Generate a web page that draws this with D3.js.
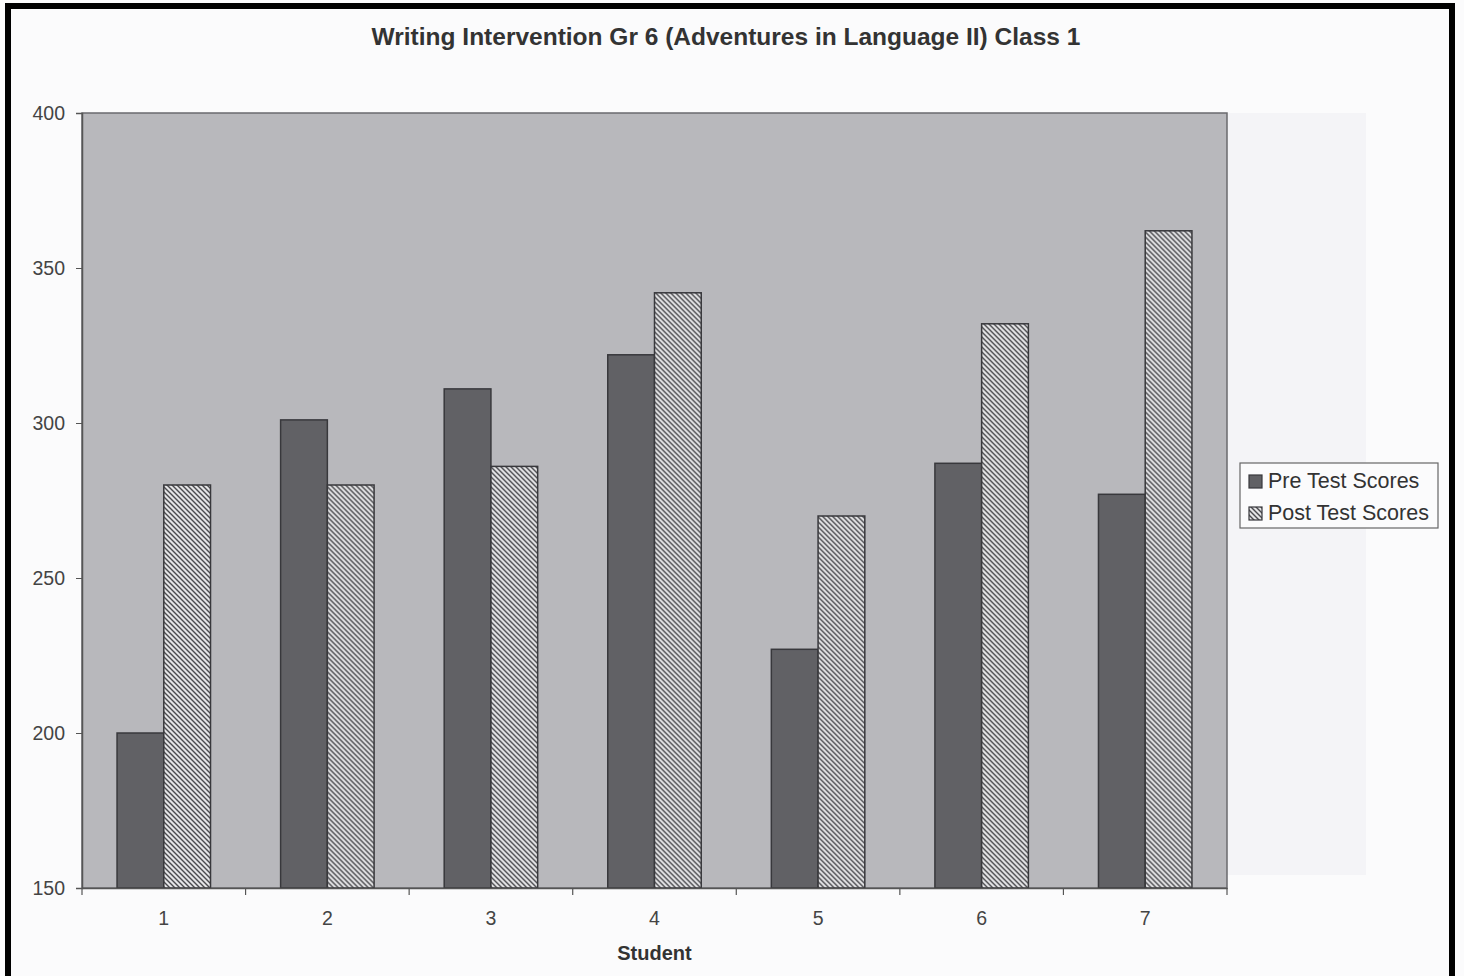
<!DOCTYPE html>
<html>
<head>
<meta charset="utf-8">
<script src="https://cdn.jsdelivr.net/npm/d3@7"></script>
<style>
  body { margin: 0; background: #fbfbfc; }
  svg { display: block; font-family: "Liberation Sans", Arial, sans-serif; }
</style>
</head>
<body>
<svg></svg>
<script>
// Chart data
const students = ["1", "2", "3", "4", "5", "6", "7"];
const seriesNames = ["Pre Test Scores", "Post Test Scores"];
const preScores = [200, 301, 311, 322, 227, 287, 277];
const postScores = [280, 280, 286, 342, 270, 332, 362];
const yTicks = [150, 200, 250, 300, 350, 400];

const svgWidth = 1464;
const svgHeight = 976;
const plot = { left: 82, right: 1227, top: 113, bottom: 888 };

const svg = d3.select("svg")
    .attr("width", svgWidth)
    .attr("height", svgHeight);

// Hatch pattern for post test bars
const defs = svg.append("defs");
const hatch = defs.append("pattern")
    .attr("id", "hatch")
    .attr("patternUnits", "userSpaceOnUse")
    .attr("width", 5)
    .attr("height", 5);
hatch.append("rect")
    .attr("width", 5)
    .attr("height", 5)
    .attr("fill", "#e4e4e6");
hatch.append("path")
    .attr("d", "M0,0 L5,5 M-1,4 L1,6 M4,-1 L6,1")
    .attr("stroke", "#4a4a4e")
    .attr("stroke-width", 1.4);

// Outer frame
svg.append("rect")
    .attr("x", 8)
    .attr("y", 6)
    .attr("width", 1444)
    .attr("height", 1000)
    .attr("fill", "none")
    .attr("stroke", "#000")
    .attr("stroke-width", 6);

// Faint scan shadow right of plot
svg.append("rect")
    .attr("x", plot.right)
    .attr("y", plot.top)
    .attr("width", 139)
    .attr("height", 762)
    .attr("fill", "#f4f4f7");

// Title
svg.append("text")
    .attr("x", 726)
    .attr("y", 45)
    .attr("text-anchor", "middle")
    .attr("font-size", 24.5)
    .attr("font-weight", "bold")
    .attr("fill", "#333")
    .text("Writing Intervention Gr 6 (Adventures in Language II) Class 1");

// Scales
const x0 = d3.scaleBand()
    .domain(students)
    .range([plot.left, plot.right])
    .padding(0);

const x1 = d3.scaleBand()
    .domain(seriesNames)
    .range([0, x0.bandwidth()])
    .paddingInner(0)
    .paddingOuter(0.75);

const yScale = d3.scaleLinear()
    .domain([150, 400])
    .range([plot.bottom, plot.top]);

// Plot area
svg.append("rect")
    .attr("x", plot.left)
    .attr("y", plot.top)
    .attr("width", plot.right - plot.left)
    .attr("height", plot.bottom - plot.top)
    .attr("fill", "#b8b8bc")
    .attr("stroke", "#6a6a6e")
    .attr("stroke-width", 1.5);

// Bars
const rows = students.map((s, i) => ({ student: s, values: [preScores[i], postScores[i]] }));
const groups = svg.append("g").selectAll("g")
    .data(rows)
    .enter()
    .append("g")
    .attr("transform", d => `translate(${x0(d.student)},0)`);

groups.selectAll("rect")
    .data(d => d.values.map((v, j) => ({ series: seriesNames[j], value: v })))
    .enter()
    .append("rect")
    .attr("x", d => x1(d.series))
    .attr("y", d => yScale(d.value))
    .attr("width", x1.bandwidth())
    .attr("height", d => plot.bottom - yScale(d.value))
    .attr("fill", d => d.series === seriesNames[0] ? "#616165" : "url(#hatch)")
    .attr("stroke", "#38383c")
    .attr("stroke-width", 1.5);

// Y axis
const yAxis = d3.axisLeft(yScale)
    .tickValues(yTicks)
    .tickSize(6)
    .tickPadding(11);
const yG = svg.append("g")
    .attr("transform", `translate(${plot.left},0)`)
    .call(yAxis);
yG.select(".domain").attr("stroke", "#555").attr("stroke-width", 1.5);
yG.selectAll(".tick line").attr("stroke", "#555");
yG.selectAll(".tick text")
    .attr("font-size", 19.5)
    .attr("fill", "#444")
    .style("font-family", "Liberation Sans, Arial, sans-serif");

// X axis (labels centred, ticks at category boundaries)
const xAxis = d3.axisBottom(x0).tickSize(0).tickPadding(23);
const xG = svg.append("g")
    .attr("transform", `translate(0,${plot.bottom})`)
    .call(xAxis);
xG.select(".domain").attr("stroke", "#555").attr("stroke-width", 1.5);
xG.selectAll(".tick text")
    .attr("font-size", 19.5)
    .attr("fill", "#444")
    .style("font-family", "Liberation Sans, Arial, sans-serif");

const boundaries = students.map(s => x0(s)).concat([x0(students[students.length - 1]) + x0.bandwidth()]);
xG.selectAll(".bound")
    .data(boundaries)
    .enter()
    .append("line")
    .attr("class", "bound")
    .attr("x1", d => d)
    .attr("x2", d => d)
    .attr("y1", 0)
    .attr("y2", 7)
    .attr("stroke", "#555")
    .attr("stroke-width", 1.2);

// X axis title
svg.append("text")
    .attr("x", (plot.left + plot.right) / 2)
    .attr("y", 960)
    .attr("text-anchor", "middle")
    .attr("font-size", 20)
    .attr("font-weight", "bold")
    .attr("fill", "#333")
    .text("Student");

// Legend
const legend = svg.append("g").attr("transform", "translate(1240,463)");
legend.append("rect")
    .attr("width", 198)
    .attr("height", 65)
    .attr("fill", "#fbfbfc")
    .attr("stroke", "#666")
    .attr("stroke-width", 1.2);

const items = legend.selectAll(".item")
    .data(seriesNames)
    .enter()
    .append("g")
    .attr("class", "item")
    .attr("transform", (d, i) => `translate(9,${10 + i * 32})`);

items.append("rect")
    .attr("width", 13)
    .attr("height", 13)
    .attr("y", 2)
    .attr("fill", (d, i) => i === 0 ? "#616165" : "url(#hatch)")
    .attr("stroke", "#38383c")
    .attr("stroke-width", 1.2);

items.append("text")
    .attr("x", 19)
    .attr("y", 15)
    .attr("font-size", 21.5)
    .attr("fill", "#333")
    .text(d => d);
</script>
</body>
</html>
